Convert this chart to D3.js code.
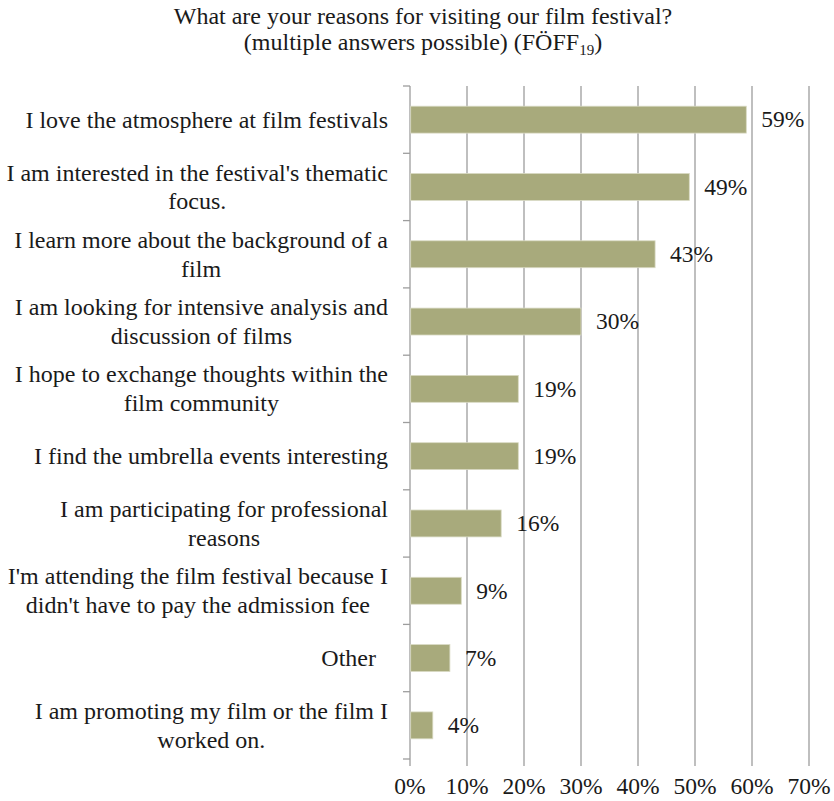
<!DOCTYPE html>
<html><head><meta charset="utf-8"><script src="https://cdn.jsdelivr.net/npm/d3@7"></script></head>
<body style="margin:0">
<svg id="chart" width="834" height="801"></svg>
<script>
// Survey answers, top to bottom (line breaks as in the category labels)
const categories = [
  "I love the atmosphere at film festivals",
  "I am interested in the festival's thematic\nfocus.",
  "I learn more about the background of a\nfilm",
  "I am looking for intensive analysis and\ndiscussion of films",
  "I hope to exchange thoughts within the\nfilm community",
  "I find the umbrella events interesting",
  "I am participating for professional\nreasons",
  "I'm attending the film festival because I\ndidn't have to pay the admission fee",
  "Other  ",
  "I am promoting my film or the film I\nworked on."
];
const shares = [0.59, 0.49, 0.43, 0.30, 0.19, 0.19, 0.16, 0.09, 0.07, 0.04];
const tickValues = [0, 0.1, 0.2, 0.3, 0.4, 0.5, 0.6, 0.7];
const titleLine1 = "What are your reasons for visiting our film festival?";
const titleLine2 = "(multiple answers possible) (FÖFF";
const titleSub = "19";

const svg = d3.select("#chart");
const plot = { left: 410, right: 809, top: 86, bottom: 759 };
const ink = "#1a1a1a";
const gridColor = "#9d9d9d";

const x = d3.scaleLinear().domain([0, 0.7]).range([plot.left, plot.right]);
const y = d3.scaleBand().domain(categories).range([plot.top, plot.bottom])
  .paddingInner(0.6).paddingOuter(0.3);
const pct = d3.format(".0%");

function label(sel, size) {
  return sel.style("font-family", '"Liberation Serif"')
    .style("font-size", size + "px").attr("fill", ink);
}

// Title, two lines with a subscript on the second
const titleX = 423;
label(svg.append("text"), 24).attr("x", titleX).attr("y", 23.5)
  .attr("text-anchor", "middle").text(titleLine1);
const line2 = label(svg.append("text"), 24).attr("y", 50);
line2.append("tspan").text(titleLine2);
line2.append("tspan").attr("dy", 5).style("font-size", "15px").text(titleSub);
line2.append("tspan").attr("dy", -5).text(")");
const w2 = line2.node().getComputedTextLength();
line2.attr("x", titleX - w2 / 2);

// Vertical gridlines (with tick extension below the plot)
svg.append("g").selectAll("line").data(tickValues.slice(1)).join("line")
  .attr("x1", d => x(d)).attr("x2", d => x(d))
  .attr("y1", plot.top).attr("y2", plot.bottom + 7)
  .attr("stroke", gridColor).attr("stroke-width", 1.3);

// Category axis line and boundary ticks
svg.append("line")
  .attr("x1", x(0)).attr("x2", x(0))
  .attr("y1", plot.top).attr("y2", plot.bottom + 7)
  .attr("stroke", gridColor).attr("stroke-width", 1.3);
const bounds = d3.range(categories.length + 1)
  .map(i => plot.top + i * (plot.bottom - plot.top) / categories.length);
svg.append("g").selectAll("line").data(bounds).join("line")
  .attr("x1", x(0) - 7).attr("x2", x(0))
  .attr("y1", d => d).attr("y2", d => d)
  .attr("stroke", gridColor).attr("stroke-width", 1.3);

// Bars
svg.append("g").selectAll("rect").data(shares).join("rect")
  .attr("x", x(0) + 0.7)
  .attr("y", (d, i) => y(categories[i]))
  .attr("width", d => x(d) - x(0) - 0.7)
  .attr("height", y.bandwidth())
  .attr("fill", "#a8aa7c")
  .attr("stroke", "#d9dac4").attr("stroke-width", 0.8);

// Value labels
label(svg.append("g").selectAll("text").data(shares).join("text"), 23.5)
  .attr("x", d => x(d) + 15)
  .attr("y", (d, i) => y(categories[i]) + y.bandwidth() / 2)
  .attr("dy", "0.33em")
  .text(d => pct(d));

// Category labels: lines centred on each other, block right-aligned
const labelRight = 388;
const lineGap = 28.7;
categories.forEach(c => {
  const lines = c.split("\n");
  const cy = y(c) + y.bandwidth() / 2;
  const t = label(svg.append("text"), 24)
    .style("white-space", "pre")
    .attr("text-anchor", "middle");
  const spans = lines.map((ln, j) => t.append("tspan")
    .attr("y", cy + (j - (lines.length - 1) / 2) * lineGap)
    .attr("dy", "0.33em").text(ln));
  const maxW = d3.max(spans, s => s.node().getComputedTextLength());
  spans.forEach(s => s.attr("x", labelRight - maxW / 2));
});

// Percentage axis labels
label(svg.append("g").selectAll("text").data(tickValues).join("text"), 23.5)
  .attr("x", d => x(d)).attr("y", 794)
  .attr("text-anchor", "middle")
  .text(d => pct(d));
</script>
</body>
</html>
